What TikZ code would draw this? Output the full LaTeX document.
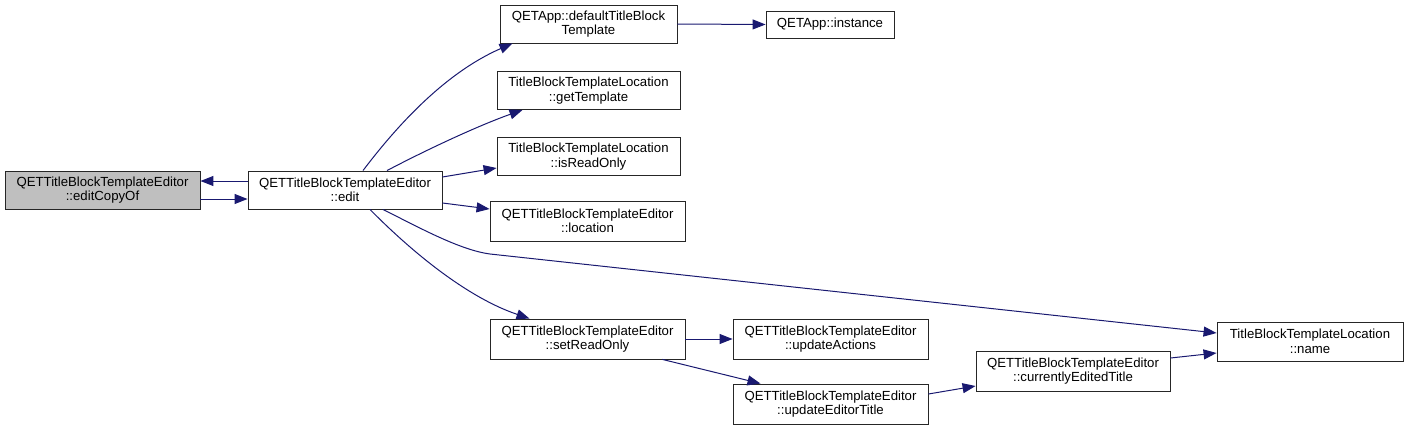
\documentclass[tikz,border=0pt]{standalone}
\usepackage{fontspec}
\setmainfont{Liberation Sans}
\usetikzlibrary{arrows.meta}
\definecolor{edgeblue}{HTML}{191970}
\definecolor{rootgray}{HTML}{BFBFBF}
\tikzset{
  box/.style={draw=black!85, line width=0.9pt, align=center, inner sep=1pt,
    font=\fontsize{13.2}{14.5}\selectfont, minimum height=38pt},
  box1/.style={box, minimum height=27pt},
  edge/.style={draw=edgeblue, line width=1pt,
    -{Triangle[length=13pt,width=10pt]}},
}
\begin{document}
\begin{tikzpicture}[x=1pt,y=-1pt]
\useasboundingbox (0,0) rectangle (1407,431);
\node[box, fill=rootgray, minimum width=195pt] (copy) at (102.5,190) {QETTitleBlockTemplateEditor\\::editCopyOf};
\node[box, minimum width=194pt] (edit) at (345,190) {QETTitleBlockTemplateEditor\\::edit};
\node[box, minimum width=177pt] (deft) at (588.5,24) {QETApp::defaultTitleBlock\\Template};
\node[box1, minimum width=128pt] (inst) at (830,24.5) {QETApp::instance};
\node[box, minimum width=183pt] (gett) at (588.5,90.5) {TitleBlockTemplateLocation\\::getTemplate};
\node[box, minimum width=183pt] (isro) at (588.5,156.5) {TitleBlockTemplateLocation\\::isReadOnly};
\node[box, minimum width=195pt, minimum height=40pt] (loc) at (587.5,221) {QETTitleBlockTemplateEditor\\::location};
\node[box, minimum width=195pt, minimum height=40pt] (setro) at (587.5,339) {QETTitleBlockTemplateEditor\\::setReadOnly};
\node[box, minimum width=195pt, minimum height=40pt] (upda) at (830.5,339) {QETTitleBlockTemplateEditor\\::updateActions};
\node[box, minimum width=195pt, minimum height=40pt] (upde) at (830.5,404) {QETTitleBlockTemplateEditor\\::updateEditorTitle};
\node[box, minimum width=194pt, minimum height=40pt] (curr) at (1073,371) {QETTitleBlockTemplateEditor\\::currentlyEditedTitle};
\node[box, minimum width=186pt, minimum height=39pt] (name) at (1310,341.5) {TitleBlockTemplateLocation\\::name};

\draw[edge] ([yshift=9pt]edit.west) -- ([yshift=9pt]copy.east);
\draw[edge] ([yshift=-9pt]copy.east) -- ([yshift=-9pt]edit.west);
\draw[edge] ([xshift=18pt]edit.north) .. controls (390,135) and (440,75) .. ([xshift=-76pt]deft.south);
\draw[edge] ([xshift=42pt]edit.north) .. controls (430,148) and (480,125) .. ([xshift=-66pt]gett.south);
\draw[edge] ([yshift=13pt]edit.east) -- ([yshift=-11.5pt]isro.west);
\draw[edge] ([yshift=-13pt]edit.east) -- ([yshift=12pt]loc.west);
\draw[edge] ([xshift=25pt]edit.south) .. controls (400,240) and (460,295) .. ([xshift=-58pt]setro.north);
\draw[edge] ([xshift=38pt]edit.south) .. controls (420,228) and (460,250) .. (490,254) -- ([yshift=8.5pt]name.west);
\draw[edge] (deft.east) -- (inst.west);
\draw[edge] (setro.east) -- (upda.west);
\draw[edge] ([xshift=75pt]setro.south) -- ([xshift=-70pt]upde.north);
\draw[edge] ([yshift=10pt]upde.east) -- ([yshift=-15pt]curr.west);
\draw[edge] ([yshift=13pt]curr.east) -- ([yshift=-11.5pt]name.west);
\end{tikzpicture}
\end{document}
